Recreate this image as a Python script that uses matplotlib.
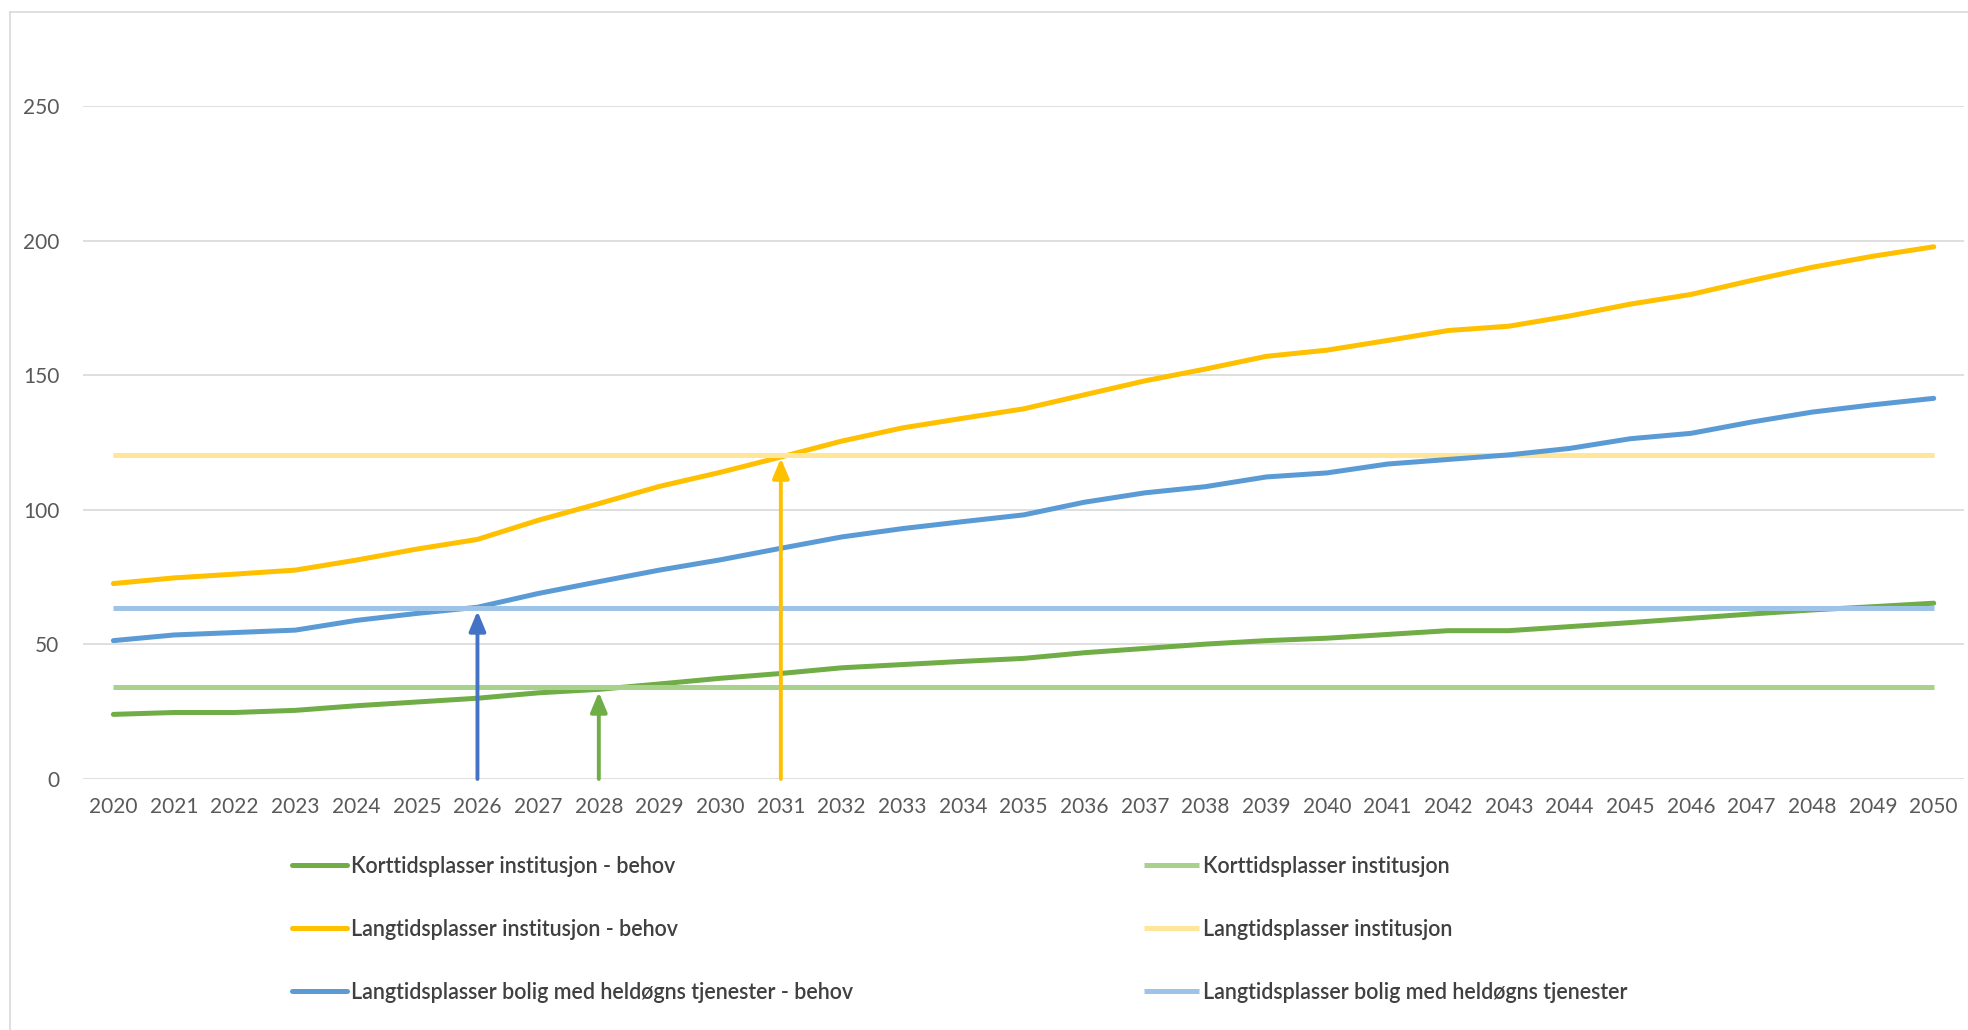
import matplotlib; matplotlib.use("Agg")
import matplotlib.pyplot as plt
from matplotlib.lines import Line2D
import numpy as np

plt.rcParams['font.family'] = ['Lato', 'DejaVu Sans']

# Values
years = [str(y) for y in range(2020, 2051)]
kort_behov = [24.0, 24.7, 24.7, 25.5, 27.2, 28.6, 30.0, 32.0, 33.3, 35.3, 37.4, 39.2, 41.3, 42.5, 43.7, 44.8,
              46.9, 48.5, 50.1, 51.4, 52.3, 53.7, 55.1, 55.1, 56.6, 58.1, 59.7, 61.3, 62.8, 64.0, 65.3]
langtid_behov = [72.6, 74.7, 76.1, 77.6, 81.3, 85.4, 89.0, 96.1, 102.3, 108.7, 113.9, 119.6, 125.5, 130.4, 134.0, 137.5,
                 142.7, 147.9, 152.3, 157.0, 159.3, 162.9, 166.6, 168.2, 172.0, 176.4, 180.0, 185.2, 190.1, 194.2, 197.7]
bolig_behov = [51.4, 53.5, 54.4, 55.3, 58.9, 61.5, 63.8, 68.9, 73.3, 77.6, 81.4, 85.7, 89.9, 93.0, 95.6, 98.1,
               102.8, 106.3, 108.6, 112.2, 113.7, 117.0, 118.7, 120.4, 122.8, 126.4, 128.4, 132.6, 136.3, 139.0, 141.4]
kort_kapasitet = [34.1] * len(years)
langtid_kapasitet = [120.3] * len(years)
bolig_kapasitet = [63.7] * len(years)

labels = ["Korttidsplasser institusjon - behov", "Korttidsplasser institusjon",
          "Langtidsplasser institusjon - behov", "Langtidsplasser institusjon",
          "Langtidsplasser bolig med heldøgns tjenester - behov", "Langtidsplasser bolig med heldøgns tjenester"]

# arrows marking where need passes capacity
arrow_years = ["2026", "2028", "2031"]
arrow_tops = [62.4, 32.3, 119.2]
arrow_colors = ["#4472C4", "#70AD47", "#FFC000"]

fig = plt.figure(figsize=(19.68, 10.30), dpi=100)
ax = fig.add_axes([0.0422, 0.2437, 0.9558, 0.6534])
x = np.arange(len(years))

series = [
    (kort_behov, "#70AD47", True),
    (kort_kapasitet, "#A9D18E", False),
    (langtid_behov, "#FFC000", True),
    (langtid_kapasitet, "#FFE699", False),
    (bolig_behov, "#5B9BD5", True),
    (bolig_kapasitet, "#9DC3E6", False),
]
handles = []
for (vals, col, behov), lab in zip(series, labels):
    h, = ax.plot(x, vals, color=col, lw=3.6, label=lab,
                 solid_capstyle="round" if behov else "butt", zorder=3)
    handles.append(h)

for yr, top, col in zip(arrow_years, arrow_tops, arrow_colors):
    xi = years.index(yr)
    ax.annotate("", xy=(xi, top), xytext=(xi, 0),
                arrowprops=dict(arrowstyle="-|>,head_length=0.6,head_width=0.25", color=col,
                                lw=2.8, shrinkA=0, shrinkB=0, mutation_scale=20), zorder=4)

ax.set_xlim(-0.5, len(years) - 0.5)
ax.set_ylim(0, 250)
ax.set_yticks(range(0, 251, 50))
ax.set_xticks(x)
ax.set_xticklabels(years)
ax.grid(axis="y", color="#d9d9d9", lw=1.2, zorder=0)
ax.set_axisbelow(True)
for s in ax.spines.values():
    s.set_visible(False)
ax.tick_params(axis="x", length=0, pad=13, labelsize=15, labelcolor="#595959")
ax.tick_params(axis="y", length=0, pad=17, labelsize=15, labelcolor="#595959")

leg_kw = dict(loc="center left", frameon=False, fontsize=15.5, borderpad=0, borderaxespad=0,
              handlelength=2.55, handletextpad=0.2, labelspacing=1.95, labelcolor="#404040")
leg1 = fig.legend(handles=handles[0::2], bbox_to_anchor=(292 / 1968, 0.098), **leg_kw)
leg2 = fig.legend(handles=handles[1::2], bbox_to_anchor=(1144 / 1968, 0.098), **leg_kw)
for leg in (leg1, leg2):
    for t in leg.get_texts():
        t.set_fontweight("semibold")

# chart area border (left and top edges visible)
fig.add_artist(Line2D([10 / 1968, 10 / 1968], [0, 1 - 12 / 1030], color="#d9d9d9", lw=1.2))
fig.add_artist(Line2D([10 / 1968, 1], [1 - 12 / 1030, 1 - 12 / 1030], color="#d9d9d9", lw=1.2))

fig.savefig("out.png", dpi=100)
